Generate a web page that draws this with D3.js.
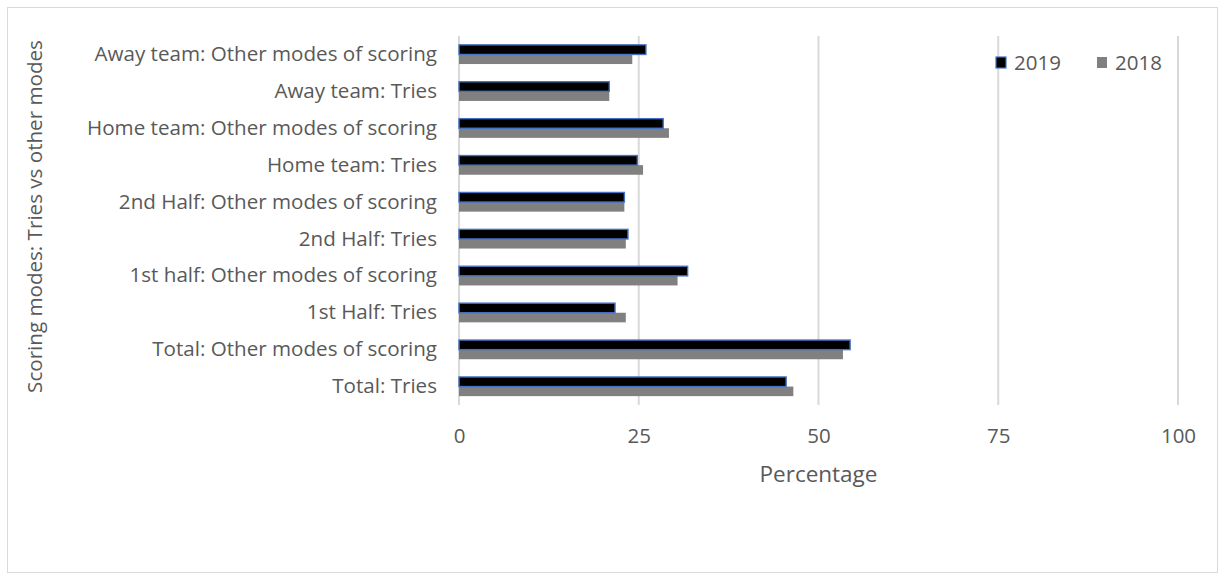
<!DOCTYPE html>
<html>
<head>
<meta charset="utf-8">
<script src="https://cdn.jsdelivr.net/npm/d3@7"></script>
<style>
  html, body { margin: 0; padding: 0; background: #fff; }
  svg { display: block; }
  text { font-family: "Open Sans", "Noto Sans", sans-serif; fill: #595959; }
</style>
</head>
<body>
<svg id="chart" width="1225" height="581"></svg>
<script>
// Scoring mode categories, listed bottom to top as drawn
const categories = [
  "Total: Tries ",
  "Total: Other modes of scoring",
  "1st Half: Tries",
  "1st half: Other modes of scoring",
  "2nd Half: Tries",
  "2nd Half: Other modes of scoring",
  "Home team: Tries",
  "Home team: Other modes of scoring",
  "Away team: Tries",
  "Away team: Other modes of scoring"
];
const seriesNames = ["2019", "2018"];
const values2019 = [45.5, 54.4, 21.7, 31.8, 23.5, 23.0, 24.8, 28.4, 20.9, 26.0];
const values2018 = [46.5, 53.4, 23.2, 30.4, 23.2, 23.0, 25.6, 29.2, 20.9, 24.1];
const xTicks = [0, 25, 50, 75, 100];

const svg = d3.select("#chart");

// outer chart frame
svg.append("rect")
  .attr("x", 7.5).attr("y", 7.5)
  .attr("width", 1210).attr("height", 565)
  .attr("fill", "#fff").attr("stroke", "#d9d9d9").attr("stroke-width", 1);

const plot = { left: 459, right: 1178, top: 36, bottom: 405 };

const x = d3.scaleLinear().domain([0, 100]).range([plot.left, plot.right]);
// top-most category first on screen
const y = d3.scaleBand()
  .domain(categories.slice().reverse())
  .range([plot.top, plot.bottom])
  .paddingInner(0.48).paddingOuter(0.24);
const ySub = d3.scaleBand().domain(seriesNames).range([0, y.bandwidth()]);

// vertical gridlines
svg.append("g").selectAll("line")
  .data(xTicks)
  .join("line")
  .attr("x1", d => x(d)).attr("x2", d => x(d))
  .attr("y1", plot.top).attr("y2", plot.bottom)
  .attr("stroke", "#d9d9d9").attr("stroke-width", 2);

// x tick labels
const xAxis = svg.append("g")
  .attr("transform", `translate(0,${plot.bottom})`)
  .call(d3.axisBottom(x).tickValues(xTicks).tickSize(0).tickPadding(23));
xAxis.select(".domain").remove();
xAxis.selectAll("text")
  .style("font-family", "\"Open Sans\", sans-serif")
  .style("font-size", "20.5px")
  .style("fill", "#595959");

// y category labels
const yAxis = svg.append("g")
  .attr("transform", `translate(${plot.left},0)`)
  .call(d3.axisLeft(y).tickSize(0).tickPadding(22));
yAxis.select(".domain").remove();
yAxis.selectAll("text")
  .style("font-family", "\"Open Sans\", sans-serif")
  .style("font-size", "20.6px")
  .style("fill", "#595959");

const rows = categories.map((c, i) => ({ cat: c, v2019: values2019[i], v2018: values2018[i] }));

// 2018 bars (grey)
svg.append("g").selectAll("rect")
  .data(rows)
  .join("rect")
  .attr("x", x(0))
  .attr("y", d => y(d.cat) + ySub("2018"))
  .attr("width", d => x(d.v2018) - x(0))
  .attr("height", ySub.bandwidth())
  .attr("fill", "#808080");

// 2019 bars (black with blue outline)
svg.append("g").selectAll("rect")
  .data(rows)
  .join("rect")
  .attr("x", x(0))
  .attr("y", d => y(d.cat) + ySub("2019"))
  .attr("width", d => x(d.v2019) - x(0))
  .attr("height", ySub.bandwidth())
  .attr("fill", "#000")
  .attr("stroke", "#4472c4").attr("stroke-width", 1.4);

// axis titles
svg.append("text")
  .attr("x", (plot.left + plot.right) / 2).attr("y", 482)
  .attr("text-anchor", "middle")
  .style("font-size", "22.5px")
  .text("Percentage");

svg.append("text")
  .attr("transform", `translate(42,${(plot.top + plot.bottom) / 2 - 4}) rotate(-90)`)
  .attr("text-anchor", "middle")
  .style("font-size", "20.6px")
  .text("Scoring modes: Tries vs other modes");

// legend
const legend = svg.append("g").attr("transform", "translate(996,62)");
const legendItems = [
  { name: "2019", fill: "#000", stroke: "#4472c4", dx: 0 },
  { name: "2018", fill: "#808080", stroke: "none", dx: 101 }
];
const li = legend.selectAll("g").data(legendItems).join("g")
  .attr("transform", d => `translate(${d.dx},0)`);
li.append("rect")
  .attr("x", 0).attr("y", -5).attr("width", 10).attr("height", 11)
  .attr("fill", d => d.fill).attr("stroke", d => d.stroke).attr("stroke-width", 1.2);
li.append("text")
  .attr("x", 18).attr("y", 7.5)
  .style("font-size", "20.5px")
  .text(d => d.name);
</script>
</body>
</html>
